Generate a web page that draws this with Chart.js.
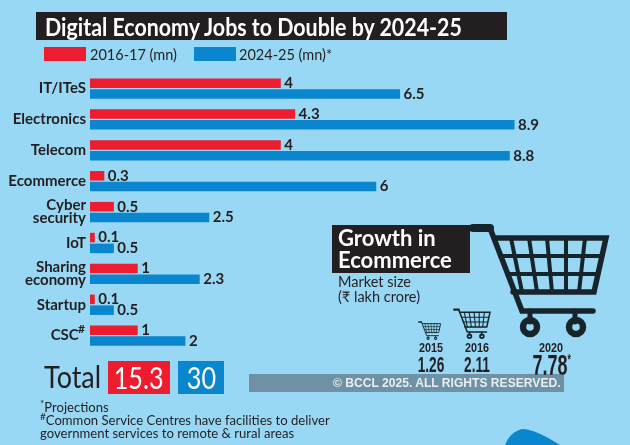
<!DOCTYPE html>
<html>
<head>
<meta charset="utf-8">
<script src="https://cdn.jsdelivr.net/npm/chart.js@4"></script>
<style>
html, body { margin: 0; padding: 0; }
#page { position: relative; width: 630px; height: 445px; overflow: hidden; background: #98d8f5; color: #231f20; font-family: Lato, sans-serif; }
#page > * { position: absolute; }
#chart { left: 0; top: 0; }
.squeeze { display: inline-block; transform-origin: left center; white-space: nowrap; }
#title { left: 36px; top: 12px; width: 471px; height: 28px; background: #231f20; color: #fff; font-size: 25px; line-height: 28px; font-weight: bold; padding-left: 9px; box-sizing: border-box; white-space: nowrap; }
#title .squeeze { transform: scaleX(0.855); }
#legend { left: 44px; top: 47px; font-size: 14.5px; line-height: 16px; }
#legend span { position: absolute; top: 0; white-space: nowrap; }
#legend i { position: absolute; top: 0; width: 42px; height: 14px; }
#totalLabel { left: 44px; top: 358px; font-size: 31px; line-height: 36px; transform: scaleX(0.87); transform-origin: left center; }
.totalBox { top: 361px; height: 33px; color: #fff; font-size: 30px; line-height: 33px; text-align: center; }
.totalBox .squeeze { transform: scaleX(0.84); transform-origin: center; }
#notes { left: 40px; top: 401px; font-size: 13.1px; line-height: 13px; white-space: nowrap; }
#growth { left: 332px; top: 225px; width: 138px; height: 48px; background: #231f20; color: #fff; font-size: 22px; line-height: 22px; padding: 2px 0 0 6px; box-sizing: border-box; font-weight: bold; }
#size { left: 338px; top: 275px; font-size: 14.5px; line-height: 14.5px; }
.year, .val { font-family: "Liberation Sans", sans-serif; font-weight: bold; text-align: center; width: 60px; }
.year { top: 341px; font-size: 13.5px; line-height: 14px; transform: scaleX(0.8); }
.val { font-size: 22px; line-height: 22px; top: 354px; transform: scaleX(0.62); }
.val sup { font-size: 14px; line-height: 0; }
#mark { left: 249px; top: 374px; width: 315px; height: 18px; background: rgba(70, 80, 90, 0.52); color: #e8eef2; font: bold 12.1px/18px "Liberation Sans", sans-serif; padding-left: 84px; box-sizing: border-box; white-space: nowrap; }
svg { overflow: visible; }
</style>
</head>
<body>
<div id="page">
  <svg style="left:0;top:0" width="630" height="445">
    <defs>
      <g id="cart" fill="none" stroke="#17242a" stroke-linecap="round">
        <path d="M4 6H21" stroke-width="8"/>
        <path d="M21 6L53 89H124" stroke-width="5.5"/>
        <path d="M26 16H137L125 70H44" stroke-width="5.5"/>
        <path d="M31 34H133M38 52H129" stroke-width="4"/>
        <path d="M42 16L53 70M60 16L68 70M78 16L83 70M97 16L97 70M116 16L110 70" stroke-width="4"/>
        <path d="M61 89V100M106 89V100" stroke-width="5"/>
        <circle cx="61" cy="105" r="7" stroke-width="6.5"/>
        <circle cx="107" cy="105" r="7" stroke-width="6.5"/>
      </g>
    </defs>
    <use href="#cart" transform="translate(469,222)"/>
    <use href="#cart" transform="translate(453,308) scale(0.27)"/>
    <use href="#cart" transform="translate(418,321) scale(0.165)"/>
    <path d="M505 445Q510 432 522 429Q535 429 560 445Z" fill="#0a86cf"/>
  </svg>
  <canvas id="chart" width="630" height="445"></canvas>
  <div id="title"><span class="squeeze" id="titleText"></span></div>
  <div id="legend"></div>
  <div id="totalLabel">Total</div>
  <div class="totalBox" style="left:108px;width:62px;background:#ed1c2e"><span class="squeeze" id="total0"></span></div>
  <div class="totalBox" style="left:178px;width:46px;background:#0a86cf"><span class="squeeze" id="total1"></span></div>
  <div id="notes"><sup style="font-size:10px;line-height:0">*</sup>Projections<br><sup style="font-size:10px;line-height:0">#</sup>Common Service Centres have facilities to deliver<br>government services to remote &amp; rural areas</div>
  <div id="growth">Growth in<br>Ecommerce</div>
  <div id="size">Market size<br>(₹ lakh crore)</div>
  <div class="year" id="y0" style="left:401px"></div>
  <div class="year" id="y1" style="left:447px"></div>
  <div class="year" id="y2" style="left:521px"></div>
  <div class="val" id="v0" style="left:401px"></div>
  <div class="val" id="v1" style="left:447px"></div>
  <div class="val" id="v2" style="left:521px;font-size:29px;top:354px"></div>
  <div id="mark">© BCCL 2025. ALL RIGHTS RESERVED.</div>
</div>
<script>
var titleText = 'Digital Economy Jobs to Double by 2024-25';
var categories = ['IT/ITeS', 'Electronics', 'Telecom', 'Ecommerce', ['Cyber', 'security'], 'IoT', ['Sharing', 'economy'], 'Startup', 'CSC\u00A0\u00A0'];
var jobs2016 = [4, 4.3, 4, 0.3, 0.5, 0.1, 1, 0.1, 1];
var jobs2024 = [6.5, 8.9, 8.8, 6, 2.5, 0.5, 2.3, 0.5, 2];
var seriesNames = ['2016-17 (mn)', '2024-25 (mn)*'];
var totals = ['15.3', '30'];
var marketYears = ['2015', '2016', '2020'];
var marketSizes = ['1.26', '2.11', '7.78'];

var RED = '#ed1c2e';
var BLUE = '#0a86cf';
var INK = '#231f20';
var LABEL_FONT = 'bold 15px Lato, sans-serif';

document.getElementById('titleText').textContent = titleText;
document.getElementById('total0').textContent = totals[0];
document.getElementById('total1').textContent = totals[1];
marketYears.forEach(function (y, i) {
    document.getElementById('y' + i).textContent = y;
    document.getElementById('v' + i).textContent = marketSizes[i];
});
document.getElementById('v2').insertAdjacentHTML('beforeend', '<sup>*</sup>');

// prints the value at the end of each bar, and the # after CSC
var barValues = {
    id: 'barValues',
    afterDatasetsDraw: function (chart) {
        var ctx = chart.ctx;
        ctx.save();
        ctx.font = LABEL_FONT;
        ctx.fillStyle = INK;
        ctx.textBaseline = 'middle';
        chart.data.datasets.forEach(function (ds, i) {
            chart.getDatasetMeta(i).data.forEach(function (bar, j) {
                ctx.fillText(ds.data[j], bar.x + 3.5, bar.y);
            });
        });
        var lastIndex = categories.length - 1;
        ctx.font = 'bold 12px Lato, sans-serif';
        ctx.fillText('#', 78, chart.scales.y.getPixelForValue(lastIndex) - 7);
        ctx.restore();
    }
};

var chart = new Chart(document.getElementById('chart'), {
    type: 'bar',
    plugins: [barValues],
    data: {
        labels: categories,
        datasets: [
            { label: seriesNames[0], data: jobs2016, backgroundColor: RED },
            { label: seriesNames[1], data: jobs2024, backgroundColor: BLUE }
        ]
    },
    options: {
        indexAxis: 'y',
        responsive: false,
        animation: false,
        categoryPercentage: 0.7,
        barPercentage: 0.88,
        layout: { padding: { top: 73.1, bottom: 93.9, left: 0, right: 0 } },
        plugins: { legend: { display: false }, tooltip: { enabled: false } },
        scales: {
            x: { display: false, min: 0, max: 11.32 },
            y: {
                afterFit: function (scale) { scale.width = 90; },
                grid: { display: false, drawTicks: false },
                border: { display: false },
                ticks: { color: INK, padding: 4, font: { family: 'Lato, sans-serif', weight: 'bold', size: 15, lineHeight: 0.87 }, autoSkip: false }
            }
        }
    }
});

// legend built from the chart's own datasets
var legendSwatchX = [0, 150];
var legendTextX = [46, 195];
var legendBox = document.getElementById('legend');
chart.data.datasets.forEach(function (ds, i) {
    var sw = document.createElement('i');
    sw.style.left = legendSwatchX[i] + 'px';
    sw.style.background = ds.backgroundColor;
    legendBox.appendChild(sw);
    var txt = document.createElement('span');
    txt.style.left = legendTextX[i] + 'px';
    txt.textContent = ds.label;
    legendBox.appendChild(txt);
});
</script>
</body>
</html>
